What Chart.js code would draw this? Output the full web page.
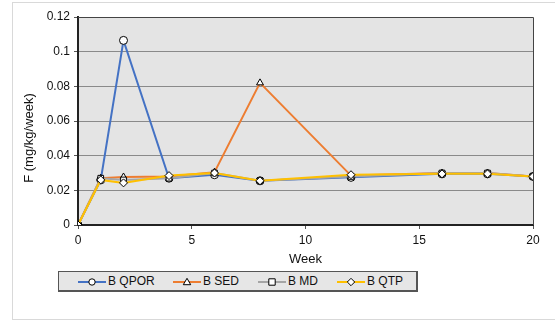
<!DOCTYPE html>
<html>
<head>
<meta charset="utf-8">
<script src="https://cdn.jsdelivr.net/npm/chart.js@4/dist/chart.umd.min.js"></script>
<style>
  html, body { margin: 0; padding: 0; background: #fff; }
  #wrap { position: relative; width: 555px; height: 323px; font-family: "Liberation Sans", Arial, sans-serif; }
  #frame { position: absolute; left: 12px; top: 2px; width: 560px; height: 318px; border: 1px solid #d9d9d9; box-sizing: border-box; }
  #c { position: absolute; left: 0; top: 0; }
  #legend { position: absolute; left: 58px; top: 271px; width: 360px; height: 21px; box-sizing: border-box;
            background: #e6e6e6; border: 1px solid #555; border-right-width: 2px; border-bottom-width: 2px; font-size: 12px; color: #111; }
  .item { position: absolute; top: 0; height: 19px; line-height: 19px; white-space: nowrap; }
  .item canvas { vertical-align: middle; margin-right: 2px; }
</style>
</head>
<body>
<div id="wrap">
  <div id="frame"></div>
  <canvas id="c" width="555" height="323"></canvas>
  <div id="legend"></div>
</div>
<script>
const weeks = [0, 1, 2, 4, 6, 8, 12, 16, 18, 20];
const seriesNames = ["B QPOR", "B SED", "B MD", "B QTP"];
const qpor = [0, 0.026, 0.1065, 0.027, 0.029, 0.0255, 0.0275, 0.0295, 0.0295, 0.028];
const sed  = [0, 0.027, 0.0277, 0.028, 0.0305, 0.082, 0.0285, 0.030, 0.030, 0.028];
const md   = [0, 0.027, 0.026, 0.027, 0.030, 0.0255, 0.028, 0.030, 0.030, 0.028];
const qtp  = [0, 0.026, 0.0243, 0.0285, 0.030, 0.0255, 0.029, 0.0295, 0.0295, 0.028];
const xTicks = [0, 5, 10, 15, 20];
const yTicks = [0, 0.02, 0.04, 0.06, 0.08, 0.1, 0.12];
const xTitle = "Week";
const yTitle = "F (mg/kg/week)";

const colors = ["#4472C4", "#ED7D31", "#A5A5A5", "#FFC000"];
const markers = ["circle", "triangle", "rect", "rectRot"];
const values = [qpor, sed, md, qtp];

const datasets = values.map((v, i) => ({
  label: seriesNames[i],
  data: weeks.map((w, j) => ({ x: w, y: v[j] })),
  borderColor: colors[i],
  backgroundColor: "#ffffff",
  borderWidth: 2,
  pointStyle: markers[i],
  pointRadius: 4,
  pointBorderColor: "#000000",
  pointBackgroundColor: "#ffffff",
  pointBorderWidth: 1,
  tension: 0,
  order: 4 - i
}));

const fontFamily = "'Liberation Sans', Arial, sans-serif";
const font = { family: fontFamily, size: 12 };
const titleFont = { family: fontFamily, size: 13 };

const plotBg = {
  id: "plotBg",
  beforeDraw(chart) {
    const { ctx, chartArea: a } = chart;
    ctx.save();
    ctx.fillStyle = "#e4e4e4";
    ctx.fillRect(a.left, a.top, a.right - a.left, a.bottom - a.top);
    ctx.restore();
  },
  afterDatasetsDraw(chart) {
    const { ctx, chartArea: a } = chart;
    ctx.save();
    ctx.strokeStyle = "#444";
    ctx.lineWidth = 1;
    ctx.beginPath();
    ctx.moveTo(a.left, a.top + 0.5);
    ctx.lineTo(a.right + 0.5, a.top + 0.5);
    ctx.lineTo(a.right + 0.5, a.bottom);
    ctx.stroke();
    // y-axis title, positioned like the reference (slightly below the plot centre)
    ctx.fillStyle = "#111";
    ctx.font = "13px " + fontFamily;
    ctx.textAlign = "center";
    ctx.textBaseline = "middle";
    ctx.translate(29, 138);
    ctx.rotate(-Math.PI / 2);
    ctx.fillText(yTitle, 0, 0);
    ctx.restore();
  }
};

new Chart(document.getElementById("c"), {
  type: "line",
  data: { datasets },
  options: {
    responsive: false,
    animation: false,
    layout: { padding: { left: 20, right: 22, top: 17, bottom: 56 } },
    plugins: { legend: { display: false }, tooltip: { enabled: false } },
    scales: {
      x: {
        type: "linear",
        min: 0, max: 20,
        afterBuildTicks(s) { s.ticks = xTicks.map(v => ({ value: v })); },
        afterFit(s) { s.height = 42; },
        ticks: { font, color: "#111", padding: 4, maxRotation: 0 },
        grid: { drawOnChartArea: false, drawTicks: true, tickLength: 4, color: "#555" },
        border: { color: "#222", width: 2 },
        title: { display: true, text: xTitle, font: titleFont, color: "#111", padding: { top: 3, bottom: 0 } }
      },
      y: {
        min: 0, max: 0.12,
        afterBuildTicks(s) { s.ticks = yTicks.map(v => ({ value: v })); },
        afterFit(s) { s.width = 58; },
        ticks: { font, color: "#111", padding: 4, callback: v => String(Math.round(v * 100) / 100) },
        grid: { color: "#8a8a8a", lineWidth: 1, tickLength: 4, drawTicks: true, tickColor: "#555" },
        border: { color: "#222", width: 2 },
        title: { display: false, text: yTitle }
      }
    }
  },
  plugins: [plotBg]
});

// HTML legend with line + marker samples
const legend = document.getElementById("legend");
const itemLeft = [19, 114, 199, 278];
seriesNames.forEach((name, i) => {
  const d = document.createElement("div");
  d.className = "item";
  d.style.left = itemLeft[i] + "px";
  const cv = document.createElement("canvas");
  cv.width = 28; cv.height = 10;
  const g = cv.getContext("2d");
  g.strokeStyle = colors[i]; g.lineWidth = 2;
  g.beginPath(); g.moveTo(0, 5); g.lineTo(28, 5); g.stroke();
  g.fillStyle = "#fff"; g.strokeStyle = "#000"; g.lineWidth = 1;
  g.beginPath();
  const cx = 14, cy = 5, r = 3.2;
  if (markers[i] === "circle") { g.arc(cx, cy, r, 0, Math.PI * 2); }
  else if (markers[i] === "triangle") { g.moveTo(cx, cy - r - 0.5); g.lineTo(cx + r + 0.5, cy + r - 0.5); g.lineTo(cx - r - 0.5, cy + r - 0.5); g.closePath(); }
  else if (markers[i] === "rect") { g.rect(cx - r, cy - r, r * 2, r * 2); }
  else { g.moveTo(cx, cy - r - 0.5); g.lineTo(cx + r + 0.5, cy); g.lineTo(cx, cy + r + 0.5); g.lineTo(cx - r - 0.5, cy); g.closePath(); }
  g.fill(); g.stroke();
  d.appendChild(cv);
  d.appendChild(document.createTextNode(name));
  legend.appendChild(d);
});
</script>
</body>
</html>
